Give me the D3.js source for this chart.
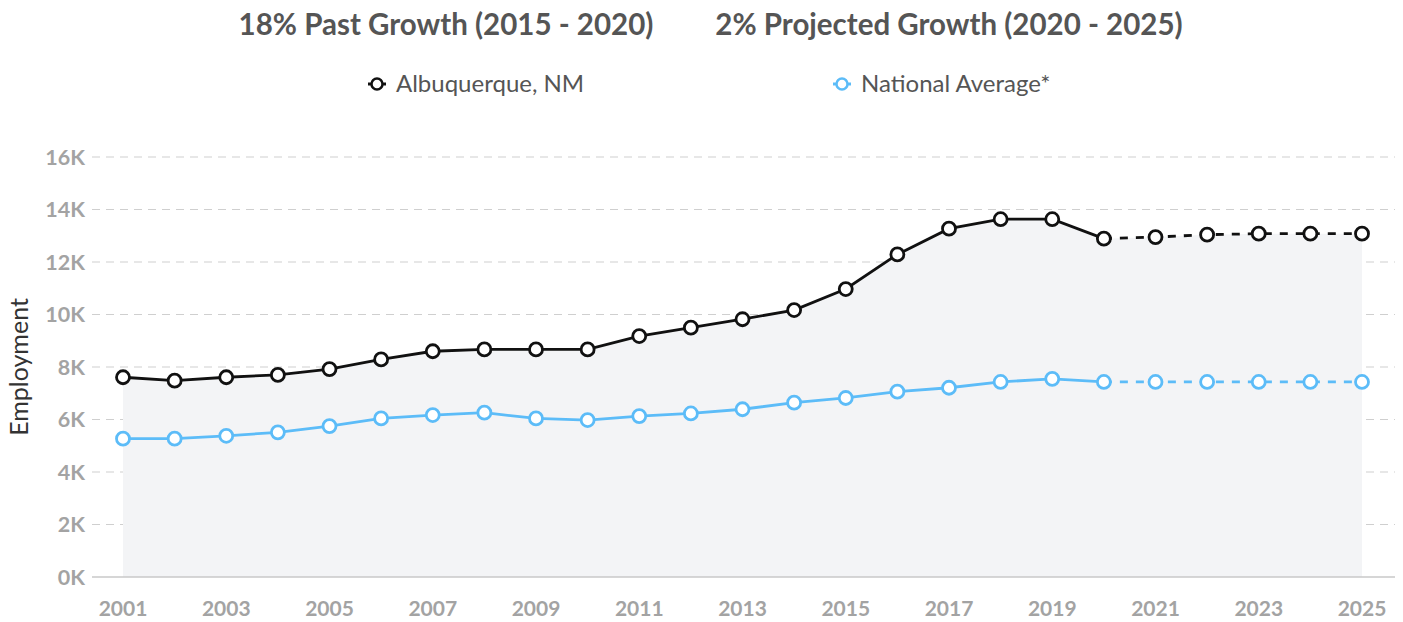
<!DOCTYPE html>
<html>
<head>
<meta charset="utf-8">
<script src="https://cdn.jsdelivr.net/npm/d3@7"></script>
<style>
  body { margin: 0; background: #fff; font-family: Lato, sans-serif; }
  .grid line { stroke: #cfcfcf; stroke-dasharray: 8,6; }
</style>
</head>
<body>
<div id="chart"></div>
<script>
// years and employment values
var years = d3.range(2001, 2026);
var albuquerque = [7610, 7480, 7610, 7700, 7920, 8290, 8600, 8670, 8670, 8670,
                   9180, 9500, 9820, 10170, 10970, 12290, 13270, 13630, 13630, 12890,
                   12950, 13040, 13080, 13080, 13080];
var national = [5270, 5270, 5380, 5510, 5750, 6040, 6170, 6260, 6040, 5980,
                6130, 6230, 6390, 6640, 6820, 7060, 7210, 7430, 7550, 7430,
                7430, 7430, 7430, 7430, 7430];
var lastActual = 2020;
var yTicks = [0, 2000, 4000, 6000, 8000, 10000, 12000, 14000, 16000];
var xTicks = d3.range(2001, 2026, 2);
var titles = ["18% Past Growth (2015 - 2020)", "2% Projected Growth (2020 - 2025)"];
var seriesNames = ["Albuquerque, NM", "National Average*"];
var colors = ["#111111", "#5cbcf8"];

var width = 1403, height = 622;
var svg = d3.select("#chart").append("svg")
    .attr("width", width)
    .attr("height", height);

var x = d3.scaleLinear().domain([2001, 2025]).range([123, 1362]);
var y = d3.scaleLinear().domain([0, 16000]).range([577, 157]);

// titles
svg.selectAll(".title").data(titles).enter().append("text")
    .attr("x", function(d, i) { return i == 0 ? 446 : 949; })
    .attr("y", 35)
    .attr("text-anchor", "middle")
    .style("font-size", "29.5px")
    .style("font-weight", "bold")
    .style("fill", "#555")
    .text(function(d) { return d; });

// legend
var legend = svg.selectAll(".legend").data(seriesNames).enter().append("g")
    .attr("transform", function(d, i) { return "translate(" + (i == 0 ? 377 : 842) + ",84)"; });
legend.append("line")
    .attr("x1", -9).attr("x2", 9)
    .attr("stroke", function(d, i) { return colors[i]; })
    .attr("stroke-width", 3);
legend.append("circle")
    .attr("r", 5.5)
    .attr("fill", "#fff")
    .attr("stroke", function(d, i) { return colors[i]; })
    .attr("stroke-width", 2.5);
legend.append("text")
    .attr("x", 19)
    .attr("dy", "0.35em")
    .style("font-size", "24px")
    .style("fill", "#555")
    .text(function(d) { return d; });

// gridlines
var grid = svg.append("g").attr("class", "grid");
grid.selectAll("line").data(yTicks.slice(1)).enter().append("line")
    .attr("x1", 92).attr("x2", 1395)
    .attr("y1", function(d) { return y(d); })
    .attr("y2", function(d) { return y(d); });

// shaded area under the local series
var area = d3.area()
    .x(function(d, i) { return x(years[i]); })
    .y0(y(0))
    .y1(function(d) { return y(d); });
svg.append("path")
    .datum(albuquerque)
    .attr("d", area)
    .attr("fill", "#f3f4f6");

// baseline
svg.append("line")
    .attr("x1", 92).attr("x2", 1395)
    .attr("y1", y(0)).attr("y2", y(0))
    .attr("stroke", "#c8c8c8")
    .attr("stroke-width", 1.5);

// y axis labels
svg.selectAll(".ylab").data(yTicks).enter().append("text")
    .attr("x", 85)
    .attr("y", function(d) { return y(d); })
    .attr("dy", "0.35em")
    .attr("text-anchor", "end")
    .style("font-size", "21.5px")
    .style("font-weight", "bold")
    .style("fill", "#a3a3a3")
    .text(function(d) { return (d / 1000) + "K"; });

// x axis labels
svg.selectAll(".xlab").data(xTicks).enter().append("text")
    .attr("x", function(d) { return x(d); })
    .attr("y", 616)
    .attr("text-anchor", "middle")
    .style("font-size", "21px")
    .style("font-weight", "bold")
    .style("fill", "#a3a3a3")
    .text(function(d) { return d; });

// y axis title
svg.append("text")
    .attr("transform", "translate(28,367) rotate(-90)")
    .attr("text-anchor", "middle")
    .style("font-size", "25px")
    .style("fill", "#333")
    .text("Employment");

var line = d3.line()
    .x(function(d) { return x(d.year); })
    .y(function(d) { return y(d.value); });

[albuquerque, national].forEach(function(values, s) {
    var pts = values.map(function(v, i) { return {year: years[i], value: v}; });
    var past = pts.filter(function(d) { return d.year <= lastActual; });
    var future = pts.filter(function(d) { return d.year >= lastActual; });
    svg.append("path").datum(past)
        .attr("d", line)
        .attr("fill", "none")
        .attr("stroke", colors[s])
        .attr("stroke-width", 2.8);
    svg.append("path").datum(future)
        .attr("d", line)
        .attr("fill", "none")
        .attr("stroke", colors[s])
        .attr("stroke-width", 2.8)
        .attr("stroke-dasharray", "8,8");
    svg.selectAll(".pt" + s).data(pts).enter().append("circle")
        .attr("cx", function(d) { return x(d.year); })
        .attr("cy", function(d) { return y(d.value); })
        .attr("r", 6.5)
        .attr("fill", "#fff")
        .attr("stroke", colors[s])
        .attr("stroke-width", 2.8);
});
</script>
</body>
</html>
